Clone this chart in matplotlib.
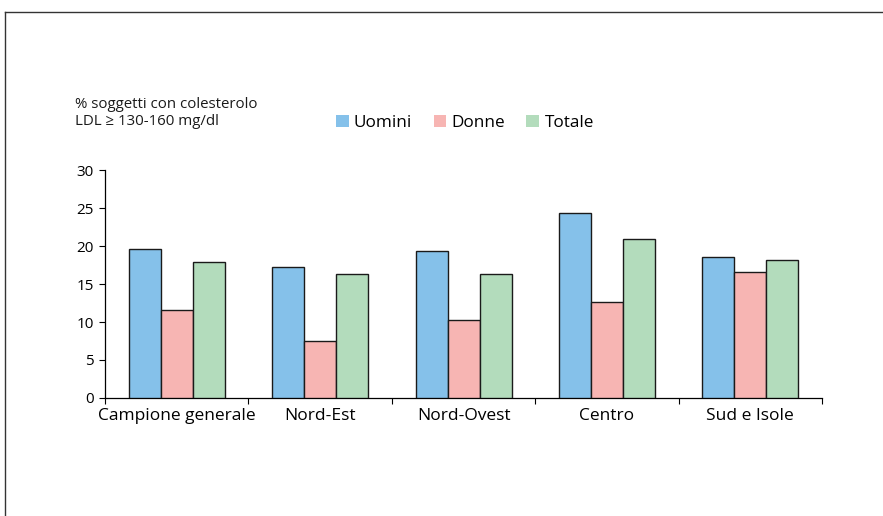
import matplotlib
matplotlib.use('Agg')
import matplotlib.pyplot as plt
import numpy as np
from matplotlib.lines import Line2D

plt.rcParams['font.family'] = ['Open Sans', 'DejaVu Sans']

# ── Dati ─────────────────────────────────────────────────────
categorie = ['Campione generale', 'Nord-Est', 'Nord-Ovest', 'Centro', 'Sud e Isole']
uomini = [19.6, 17.3, 19.4, 24.4, 18.6]
donne = [11.6, 7.5, 10.3, 12.6, 16.6]
totale = [17.9, 16.3, 16.3, 20.9, 18.2]
serie = ['Uomini', 'Donne', 'Totale']
colori = ['#85C1EA', '#F7B5B3', '#B3DCBC']
yticks = [0, 5, 10, 15, 20, 25, 30]

fig = plt.figure(figsize=(8.83, 5.16), dpi=100)
ax = fig.add_axes([0.119, 0.2287, 0.812, 0.4418])

x = np.arange(len(categorie))
bw = 0.223
for i, (vals, col, lab) in enumerate(zip([uomini, donne, totale], colori, serie)):
    ax.bar(x + (i - 1) * bw, vals, width=bw, color=col, edgecolor='#1a1a1a',
           linewidth=1.0, label=lab, zorder=3)

ax.set_xlim(-0.5, len(categorie) - 0.5)
ax.set_ylim(0, 30)
ax.set_yticks(yticks)
ax.tick_params(axis='y', direction='out', length=4, width=0.8, labelsize=11, pad=4)

# tick x ai confini delle categorie, etichette al centro
ax.set_xticks(np.arange(len(categorie) + 1) - 0.5)
ax.set_xticklabels([])
ax.set_xticks(x, minor=True)
ax.set_xticklabels(categorie, minor=True, fontsize=12.5)
ax.tick_params(axis='x', which='major', direction='out', length=4, width=0.8)
ax.tick_params(axis='x', which='minor', length=0, pad=7)

for s in ['top', 'right']:
    ax.spines[s].set_visible(False)
for s in ['left', 'bottom']:
    ax.spines[s].set_linewidth(0.9)

# ── Titolo asse y ────────────────────────────────────────────
fig.text(75 / 883, 1 - 113 / 516, '% soggetti con colesterolo\nLDL ≥ 130-160 mg/dl',
         ha='left', va='center', fontsize=10.8, linespacing=1.25, color='#1a1a1a')

# ── Legenda ──────────────────────────────────────────────────
leg = fig.legend(loc='center left', bbox_to_anchor=(336 / 883, 1 - 123 / 516), ncol=3,
                 frameon=False, fontsize=12.3, handlelength=0.75, handleheight=0.75,
                 handletextpad=0.3, columnspacing=1.25, borderaxespad=0, borderpad=0)
for h in leg.legend_handles:
    h.set_edgecolor('none')

# ── Cornice ──────────────────────────────────────────────────
fig.add_artist(Line2D([4.5 / 883, 4.5 / 883], [0, 1 - 12 / 516], transform=fig.transFigure,
                      color='#333333', lw=1.0))
fig.add_artist(Line2D([4.5 / 883, 1], [1 - 12 / 516, 1 - 12 / 516], transform=fig.transFigure,
                      color='#333333', lw=1.0))

fig.savefig('out.png', dpi=100, facecolor='white')
